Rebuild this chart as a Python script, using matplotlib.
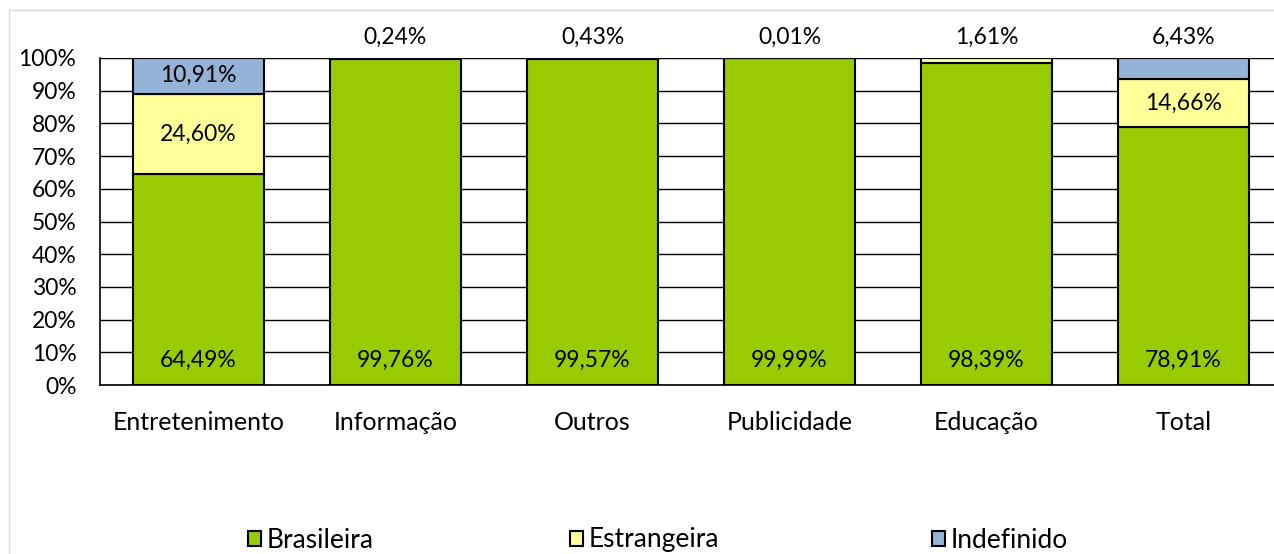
import numpy as np
import matplotlib.pyplot as plt
from matplotlib.patches import Rectangle

categories = ["Entretenimento", "Informação", "Outros", "Publicidade", "Educação", "Total"]
brasileira = [64.49, 99.76, 99.57, 99.99, 98.39, 78.91]
estrangeira = [24.60, 0.24, 0.43, 0.01, 1.61, 14.66]
indefinido = [10.91, 0.00, 0.00, 0.00, 0.00, 6.43]

# small shares are labelled above the bar
labels_above = {1: 0.24, 2: 0.43, 3: 0.01, 4: 1.61, 5: 6.43}


def fmt(v):
    return ("%.2f%%" % v).replace(".", ",")


plt.rcParams['font.family'] = ['Lato', 'DejaVu Sans']
plt.rcParams['font.size'] = 16.5

W, H = 1274, 554
fig = plt.figure(figsize=(W / 100, H / 100), dpi=100)
ax = fig.add_axes([100 / W, (H - 385) / H, 1 - 100 / W, 327 / H])

x = np.arange(len(categories))
w = 0.66
green, yellow, blue = "#99CC00", "#FFFF99", "#95B3D7"
b1 = np.array(brasileira)
b2 = b1 + np.array(estrangeira)
h1 = ax.bar(x, brasileira, w, color=green, edgecolor="black", linewidth=1.5, zorder=3)
h2 = ax.bar(x, estrangeira, w, bottom=b1, color=yellow, edgecolor="black", linewidth=1.5, zorder=3)
h3 = ax.bar(x, indefinido, w, bottom=b2, color=blue, edgecolor="black", linewidth=1.5, zorder=3)

for i in x:
    ax.text(i, 7.5, fmt(brasileira[i]), ha="center", va="center", zorder=4)
    if i in labels_above:
        ax.text(i, 106.3, fmt(labels_above[i]), ha="center", va="center", clip_on=False)
ax.text(0, b1[0] + estrangeira[0] / 2, fmt(estrangeira[0]), ha="center", va="center", zorder=4)
ax.text(0, b2[0] + indefinido[0] / 2, fmt(indefinido[0]), ha="center", va="center", zorder=4)
ax.text(5, b1[5] + estrangeira[5] / 2, fmt(estrangeira[5]), ha="center", va="center", zorder=4)

ax.set_xlim(-0.5, -0.5 + 1174 / 197)
ax.set_ylim(0, 100)
ax.set_yticks(np.arange(0, 101, 10))
ax.set_yticklabels(["%d%%" % v for v in range(0, 101, 10)])
ax.set_xticks(x)
ax.set_xticklabels(categories, fontsize=18)
ax.tick_params(axis="y", length=0, pad=17)
ax.tick_params(axis="x", length=0, pad=19)
ax.grid(axis="y", color="black", linewidth=1, zorder=0)
for s in ["top", "right"]:
    ax.spines[s].set_visible(False)
ax.spines["left"].set_linewidth(1.2)
ax.spines["bottom"].set_linewidth(1.2)

# legend entries placed one by one like the original
for handle, name, xpos in [(h1, "Brasileira", 248), (h2, "Estrangeira", 570), (h3, "Indefinido", 932)]:
    fig.legend([handle], [name], loc="center left", bbox_to_anchor=(xpos / W, (H - 540) / H),
               frameon=False, borderpad=0, borderaxespad=0, handlelength=0.5, handleheight=0.5,
               handletextpad=0.2, fontsize=19)

fig.add_artist(Rectangle((9 / W, -0.1), 1.2, (H - 10) / H + 0.1, transform=fig.transFigure,
                         fill=False, edgecolor="#D9D9D9", linewidth=1))

fig.savefig("out.png", dpi=100)
